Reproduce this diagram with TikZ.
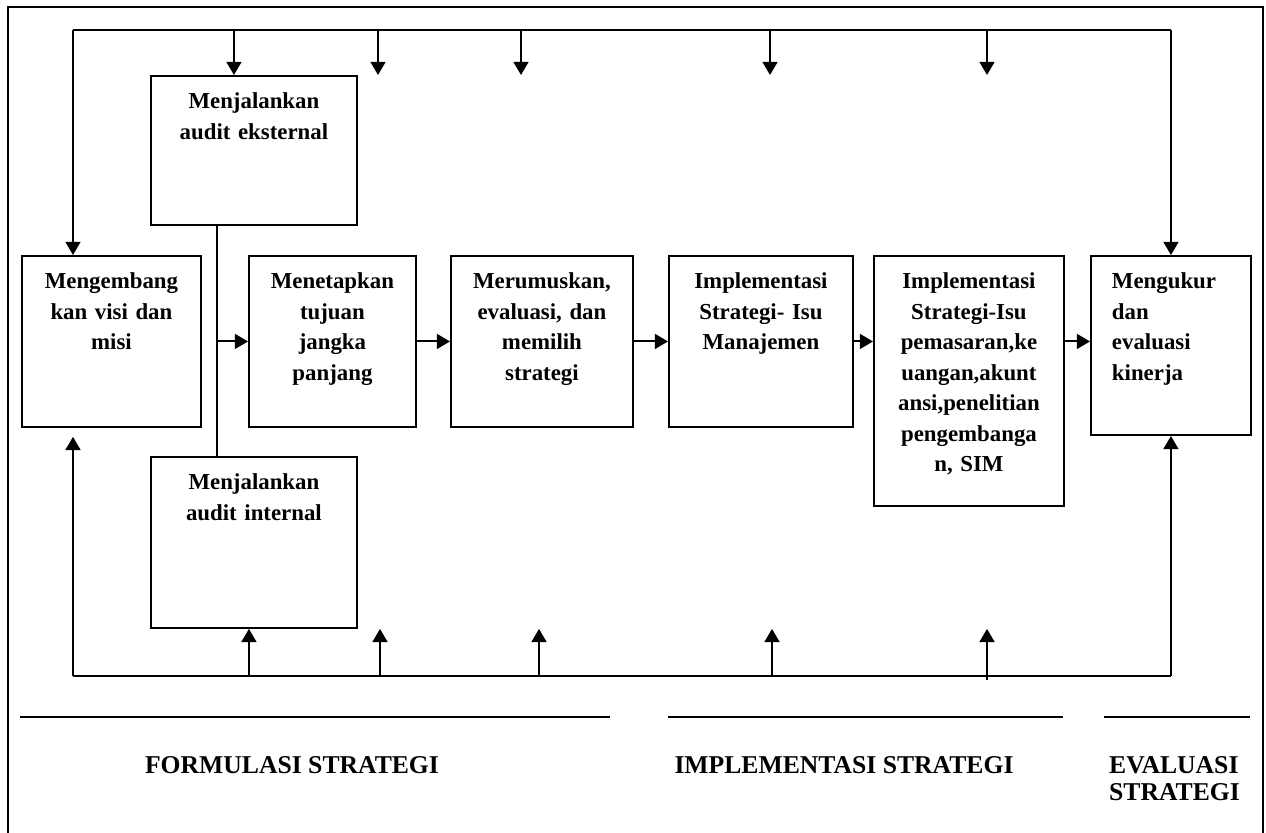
\documentclass[tikz,border=0pt]{standalone}
\usepackage{fontspec}
\setmainfont{Liberation Serif}
\usepackage{tikz}
\usetikzlibrary{arrows.meta,positioning,calc}
\tikzset{
  stagebox/.style={draw, line width=1.1pt, align=center, inner sep=0pt, anchor=north west, minimum width=#1, text width=#1, font=\fontsize{13pt}{17.4pt}\selectfont\bfseries, text height=18.5pt, text depth=78.8pt},
  flow/.style={-{Triangle[length=7.5pt,width=8.5pt]}, line width=1.1pt},
  bus/.style={line width=1.1pt},
  phasebar/.style={line width=1.3pt},
  phaselabel/.style={font=\fontsize{14.6pt}{15.4pt}\selectfont\bfseries, align=left},
  frameline/.style={line width=0.8pt}
}

\begin{document}
\begin{tikzpicture}[x=0.02cm, y=-0.02cm]
  \useasboundingbox (0,0) rectangle (1266,832);
  \draw[frameline] (8,840) -- (8,7) -- (1263,7) -- (1263,840);
  % proses utama
  \node[stagebox=3.58cm] (visi) at (21,255) {Mengembang\\kan visi dan\\misi};
  \node[stagebox=4.12cm, text depth=66.3pt] (ext) at (150,75) {Menjalankan\\audit eksternal};
  \node[stagebox=4.12cm] (int) at (150,456) {Menjalankan\\audit internal};
  \node[stagebox=3.34cm] (tujuan) at (248,255) {Menetapkan\\tujuan\\jangka\\panjang};
  \node[stagebox=3.64cm] (rumus) at (450,255) {Merumuskan,\\evaluasi, dan\\memilih\\strategi};
  \node[stagebox=3.68cm] (manaj) at (668,255) {Implementasi\\Strategi- Isu\\Manajemen};
  \node[stagebox=3.8cm, text depth=123.8pt] (pasar) at (873,255) {Implementasi\\Strategi-Isu\\pemasaran,ke\\uangan,akunt\\ansi,penelitian\\pengembanga\\n, SIM};
  \node[stagebox=3.2cm, text width=2.36cm, align=left, text depth=83.4pt] (ukur) at (1090,255) {Mengukur\\dan\\evaluasi\\kinerja};

  % umpan balik atas
  \coordinate (tl) at (73,30);
  \coordinate (tr) at (ukur.north |- tl);
  \coordinate (extin) at ([xshift=-0.4cm]ext.north);
  \draw[bus] (tl) -- (tr);
  \draw[flow] (tl) -- (tl |- visi.north);
  \draw[flow] (tr) -- (ukur.north);
  \draw[flow] (extin |- tl) -- (extin);
  \foreach \x in {378,521,770,987}
    \draw[flow] (\x,0 |- tl) -- (\x,0 |- ext.north);

  % umpan balik bawah
  \coordinate (bl) at (73,676);
  \coordinate (br) at (ukur.south |- bl);
  \coordinate (intin) at ([xshift=-0.1cm]int.south);
  \draw[bus] (bl) -- (br);
  \draw[flow] (bl) -- ($(bl |- visi.south)+(0,9)$);
  \draw[flow] (br) -- (ukur.south);
  \draw[flow] (intin |- bl) -- (intin);
  \foreach \x/\s in {380/0,539/0,772/0,987/4}
    \draw[flow] ($(\x,0 |- bl)+(0,\s)$) -- (\x,0 |- int.south);

  % alur antar proses
  \coordinate (spine) at ([xshift=-0.74cm]ext.south);
  \draw[bus] (spine) -- (spine |- int.north);
  \draw[flow] (spine |- tujuan.west) -- (tujuan.west);
  \draw[flow] (tujuan) -- (rumus);
  \draw[flow] (rumus) -- (manaj);
  \draw[flow] (manaj.east) -- (manaj.east -| pasar.west);
  \draw[flow] (pasar.east |- manaj.east) -- (ukur.west |- manaj.east);

  % tahapan
  \draw[phasebar] (20,717) -- (610,717);
  \draw[phasebar] (668,717) -- (1063,717);
  \draw[phasebar] (1104,717) -- (1250,717);
  \node[phaselabel] (formulasi) at (292,765) {FORMULASI STRATEGI};
  \node[phaselabel] (implementasi) at (844,765) {IMPLEMENTASI STRATEGI};
  \node[phaselabel, anchor=west] (evaluasi) at (1103,779) {EVALUASI\\STRATEGI};
\end{tikzpicture}
\end{document}
